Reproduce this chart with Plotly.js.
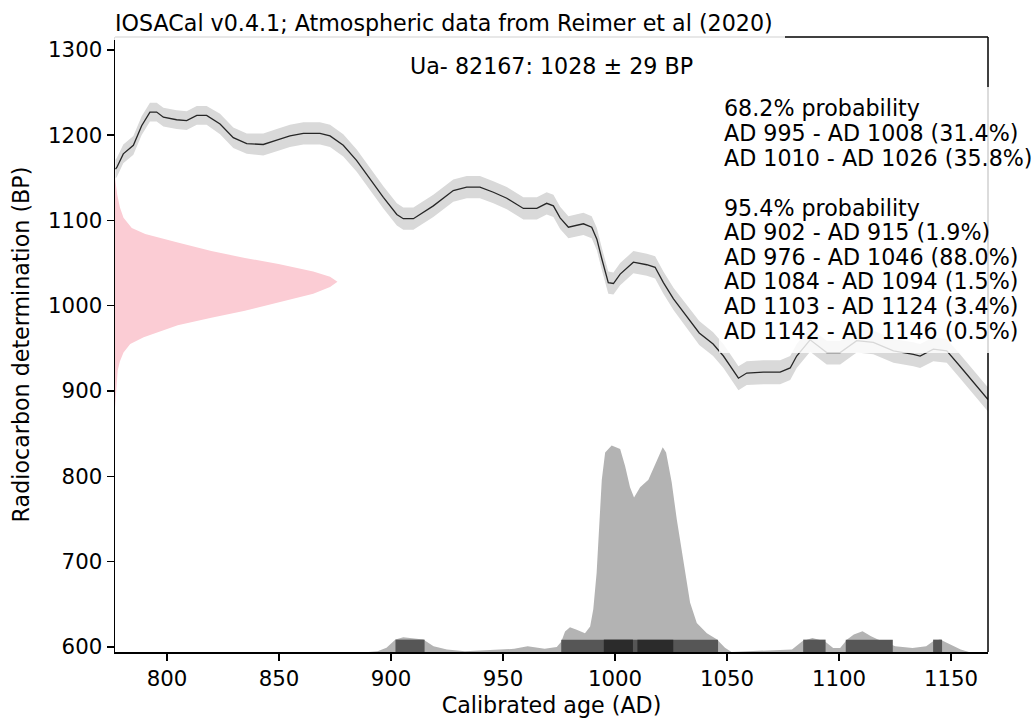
<!DOCTYPE html>
<html>
<head>
<meta charset="utf-8">
<script src="https://cdn.plot.ly/plotly-3.0.1.min.js"></script>
<style>html,body{margin:0;padding:0;background:#fff;}#chart{width:1036px;height:722px;}</style>
</head>
<body>
<div id="chart"></div>
<script>
// ---- Calibration curve (IntCal20) ----
var curveYear = [777.0, 777.6, 780.5, 785.0, 788.7, 792.4, 795.4, 798.4, 804.3, 808.8, 813.3, 817.7, 823.7, 829.6, 835.6, 843.0, 849.0, 854.9, 860.9, 868.3, 872.8, 878.7, 884.7, 890.6, 896.6, 902.6, 905.5, 910.0, 918.9, 927.8, 933.8, 939.7, 945.7, 951.7, 959.1, 965.1, 969.5, 972.5, 975.5, 979.2, 983.0, 985.9, 989.6, 991.9, 994.1, 997.0, 999.3, 1002.3, 1008.2, 1014.2, 1017.9, 1021.6, 1026.1, 1029.0, 1037.6, 1043.8, 1048.4, 1055.1, 1058.8, 1066.2, 1073.7, 1078.2, 1081.1, 1087.1, 1094.5, 1100.5, 1107.9, 1115.3, 1124.3, 1133.2, 1136.2, 1142.1, 1148.1, 1154.0, 1160.0, 1166.5];
var curveBP   = [1160, 1162, 1178, 1188, 1211, 1227, 1227, 1221, 1218, 1217, 1223, 1223, 1213, 1197, 1190, 1189, 1194, 1199, 1202, 1202, 1199, 1188, 1170, 1148, 1127, 1107, 1102, 1102, 1117, 1135, 1139, 1139, 1133, 1126, 1114, 1114, 1120, 1117, 1103, 1092, 1094, 1096, 1092, 1078, 1055, 1027, 1026, 1037, 1051, 1048, 1045, 1027, 1008, 998, 968, 955, 941, 915, 921, 922, 922, 927, 941, 960, 945, 945, 959, 957, 947, 943, 941, 949, 947, 929, 910, 890];
var curveErr  = [11, 11, 11, 11, 11, 11, 11, 11, 11, 11, 11, 11, 12, 12, 12, 13, 13, 13, 13, 13, 13, 13, 13, 13, 13, 13, 13, 13, 13, 13, 13, 13, 13, 13, 13, 13, 13, 13, 13, 13, 13, 13, 13, 13, 13, 13, 13, 13, 13, 13, 13, 13, 13, 13, 14, 14, 14, 14, 14, 14, 14, 14, 14, 14, 14, 14, 14, 14, 14, 14, 14, 14, 14, 14, 14, 14];

// ---- Radiocarbon determination Ua-82167: 1028 +/- 29 BP (pink, width in years from axis) ----
var dateBP    = [1150, 1140, 1130, 1115, 1103, 1091, 1084, 1074, 1064, 1056, 1049, 1040, 1034, 1028, 1022, 1014, 1004, 994, 986, 977, 963, 955, 945, 935, 924, 910, 895, 880];
var dateWidth = [0, 0.5, 1, 2.2, 3.8, 7.5, 13.5, 28, 43, 58, 73, 88.5, 96, 99.3, 96, 88.5, 73.4, 58, 43, 28, 12.8, 6.8, 3.8, 2.2, 1.2, 0.8, 0.4, 0];

// ---- Calibrated age probability (gray, in BP units on the same axis) ----
var calYear = [890, 894, 898, 902, 905.5, 910, 914.4, 919, 925, 933, 948.6, 955, 961, 968.6, 974, 976, 977.7, 979.9, 982.9, 986.6, 988.9, 990.3, 991.8, 993, 994.1, 995.6, 998.5, 1002.3, 1004.5, 1006.7, 1008.5, 1011.2, 1014.9, 1018.6, 1021.3, 1022.8, 1025.3, 1027.6, 1030.5, 1033.5, 1036.5, 1041, 1045.4, 1049.1, 1052, 1079, 1083.6, 1088.1, 1093.6, 1097.4, 1100.5, 1103.6, 1106.6, 1110.5, 1114.3, 1117.4, 1125.1, 1132.8, 1138.9, 1142, 1145.1, 1148.2, 1154.3, 1158];
var calBP   = [594, 595, 599, 608.6, 611.3, 610.1, 608.6, 600.7, 596.9, 595, 596.9, 597.7, 600.7, 597.7, 600, 606, 618, 623, 620, 616, 624, 644, 687, 738, 796, 828, 836, 832, 812, 787, 775, 787, 796, 818, 834, 828, 793, 749, 699, 652, 628, 616, 609, 599, 594, 597, 606.6, 610.5, 606.6, 598.8, 598.8, 608.6, 614.4, 618.3, 612.4, 608.6, 600.7, 598.8, 600.7, 606.6, 608.6, 604.7, 596.9, 594];

// ---- Probability ranges ----
var range68Start = [995, 1010];
var range68End   = [1008, 1026];
var range95Start = [902, 976, 1084, 1103, 1142];
var range95End   = [915, 1046, 1094, 1124, 1146];

var xTicks = [800, 850, 900, 950, 1000, 1050, 1100, 1150];
var yTicks = [600, 700, 800, 900, 1000, 1100, 1200, 1300];

var titleText = 'IOSACal v0.4.1; Atmospheric data from Reimer et al (2020)';
var sampleText = 'Ua- 82167: 1028 \u00b1 29 BP';
var probLines = ['68.2% probability', 'AD 995 - AD 1008 (31.4%)', 'AD 1010 - AD 1026 (35.8%)', '',
                 '95.4% probability', 'AD 902 - AD 915 (1.9%)', 'AD 976 - AD 1046 (88.0%)',
                 'AD 1084 - AD 1094 (1.5%)', 'AD 1103 - AD 1124 (3.4%)', 'AD 1142 - AD 1146 (0.5%)'];

// ---- layout geometry ----
var W = 1036, H = 722;
var M = {l: 115, r: 48, t: 37, b: 70};
var xRange = [776.8, 1166.5];
var yRange = [594, 1315];
var barTop = 608.5;
var FONT = 'DejaVu Sans, Verdana, sans-serif';
var FS = 22.2;
var TFS = 21.3;
var pw = W - M.l - M.r, ph = H - M.t - M.b;
function pxX(px) { return (px - M.l) / pw; }
function pxY(py) { return (H - M.b - py) / ph; }

var upper = curveBP.map(function (v, i) { return v + curveErr[i]; });
var lower = curveBP.map(function (v, i) { return v - curveErr[i]; });
var pinkX = dateWidth.map(function (w) { return xRange[0] + w; });

var traces = [
  {x: curveYear, y: lower, mode: 'lines', line: {width: 0, color: 'rgba(0,0,0,0)'}, hoverinfo: 'skip', showlegend: false},
  {x: curveYear, y: upper, mode: 'lines', line: {width: 0, color: 'rgba(0,0,0,0)'}, fill: 'tonexty', fillcolor: '#d9d9d9', hoverinfo: 'skip', showlegend: false},
  {x: curveYear, y: curveBP, mode: 'lines', line: {width: 1.3, color: '#262626'}, name: 'IntCal20', showlegend: false},
  {x: pinkX, y: dateBP, mode: 'lines', line: {width: 0, color: 'rgba(0,0,0,0)'}, fill: 'tozerox', fillcolor: 'rgb(251,204,212)', name: 'Ua-82167', showlegend: false},
  {x: calYear, y: calBP, mode: 'lines', line: {width: 0, color: 'rgba(0,0,0,0)'}, fill: 'tozeroy', fillcolor: '#b3b3b3', name: 'calibrated', showlegend: false}
];

var shapes = [];
range95Start.forEach(function (s, i) {
  shapes.push({type: 'rect', xref: 'x', yref: 'y', x0: s, x1: range95End[i], y0: yRange[0], y1: barTop,
    fillcolor: '#565656', line: {width: 0}, layer: 'above'});
});
range68Start.forEach(function (s, i) {
  shapes.push({type: 'rect', xref: 'x', yref: 'y', x0: s, x1: range68End[i], y0: yRange[0], y1: barTop,
    fillcolor: '#2b2b2b', line: {width: 0}, layer: 'above'});
});
// top and right frame lines
shapes.push({type: 'line', xref: 'paper', yref: 'paper', x0: 0, x1: 1, y0: 1, y1: 1, line: {color: '#000', width: 1.5}, layer: 'above'});
shapes.push({type: 'line', xref: 'paper', yref: 'paper', x0: 1, x1: 1, y0: 0, y1: 1, line: {color: '#000', width: 1.5}, layer: 'above'});
// translucent text backgrounds
shapes.push({type: 'rect', xref: 'paper', yref: 'paper', x0: pxX(105), x1: pxX(785), y0: pxY(40), y1: pxY(6),
  fillcolor: 'rgba(255,255,255,0.88)', line: {width: 0}, layer: 'above'});
shapes.push({type: 'rect', xref: 'paper', yref: 'paper', x0: pxX(719), x1: pxX(1036), y0: pxY(353), y1: pxY(87),
  fillcolor: 'rgba(255,255,255,0.82)', line: {width: 0}, layer: 'above'});

var annotations = [
  {text: titleText, xref: 'paper', yref: 'paper', x: pxX(113), y: pxY(23), xanchor: 'left', yanchor: 'middle',
   showarrow: false, font: {family: FONT, size: FS, color: '#000'}},
  {text: sampleText, xref: 'paper', yref: 'paper', x: pxX(551), y: pxY(66), xanchor: 'center', yanchor: 'middle',
   showarrow: false, font: {family: FONT, size: FS, color: '#000'}}
];
var lineY = [108, 132.5, 157.5, 182, 207.5, 232, 256.5, 281, 306, 330.5];
probLines.forEach(function (t, i) {
  if (!t) return;
  annotations.push({text: t, xref: 'paper', yref: 'paper', x: pxX(722), y: pxY(lineY[i]), xanchor: 'left', yanchor: 'middle',
    showarrow: false, font: {family: FONT, size: FS, color: '#000'}});
});

var axisCommon = {
  showgrid: false, zeroline: false, showline: true, linecolor: '#000', linewidth: 1.5,
  ticks: 'outside', ticklen: 7, tickwidth: 1.5, tickcolor: '#000',
  tickfont: {family: FONT, size: TFS, color: '#000'}, automargin: false, fixedrange: true
};

var layout = {
  width: W, height: H, margin: M, paper_bgcolor: '#fff', plot_bgcolor: '#fff',
  showlegend: false,
  xaxis: Object.assign({}, axisCommon, {range: xRange, tickmode: 'array', tickvals: xTicks, ticktext: xTicks.map(String),
    title: {text: 'Calibrated age (AD)', font: {family: FONT, size: FS, color: '#000'}, standoff: 7}}),
  yaxis: Object.assign({}, axisCommon, {range: yRange, tickmode: 'array', tickvals: yTicks, ticktext: yTicks.map(String),
    title: {text: 'Radiocarbon determination (BP)', font: {family: FONT, size: FS, color: '#000'}, standoff: 12}}),
  shapes: shapes,
  annotations: annotations
};

Plotly.newPlot('chart', traces, layout, {displayModeBar: false, staticPlot: true});
</script>
</body>
</html>
